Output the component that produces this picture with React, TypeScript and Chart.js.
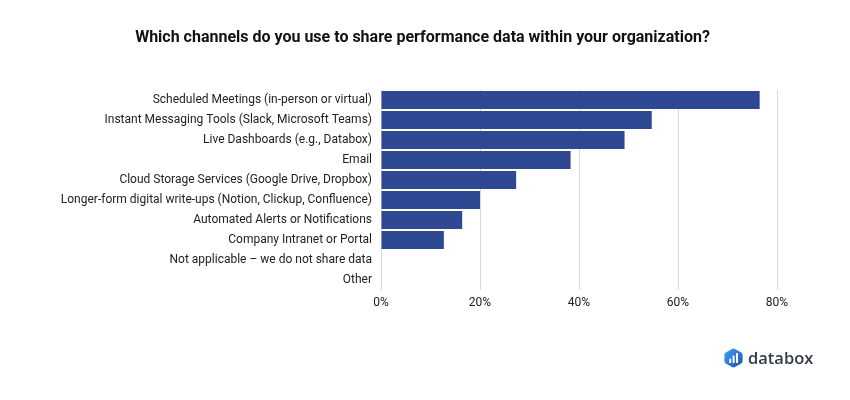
import React, { useEffect, useRef } from "react";
import { Chart, registerables } from "chart.js";

Chart.register(...registerables);

const TITLE = "Which channels do you use to share performance data within your organization?";
const categories = [
  "Scheduled Meetings (in-person or virtual)",
  "Instant Messaging Tools (Slack, Microsoft Teams)",
  "Live Dashboards (e.g., Databox)",
  "Email",
  "Cloud Storage Services (Google Drive, Dropbox)",
  "Longer-form digital write-ups (Notion, Clickup, Confluence)",
  "Automated Alerts or Notifications",
  "Company Intranet or Portal",
  "Not applicable – we do not share data",
  "Other",
];
const shares = [76.5, 54.7, 49.2, 38.3, 27.3, 20.0, 16.4, 12.7, 0, 0];
const xTicks = [0, 20, 40, 60, 80];

const BAR_COLOR = "#2e4894";
const FONT = "Roboto, 'Noto Sans', sans-serif";

function Logo() {
  return (
    <div
      style={{
        position: "absolute",
        left: 724,
        top: 348,
        display: "flex",
        alignItems: "center",
        height: 20,
      }}
    >
      <svg width="19" height="20" viewBox="0 0 19 20">
        <defs>
          <linearGradient id="dbg" x1="0" y1="0" x2="1" y2="1">
            <stop offset="0" stopColor="#3fa2f0" />
            <stop offset="1" stopColor="#1d4fb8" />
          </linearGradient>
        </defs>
        <path
          d="M8 0.9 Q9.5 0 11 0.9 L17.2 4.5 Q18.6 5.3 18.6 7 L18.6 13 Q18.6 14.7 17.2 15.5 L11 19.1 Q9.5 20 8 19.1 L1.8 15.5 Q0.4 14.7 0.4 13 L0.4 7 Q0.4 5.3 1.8 4.5 Z"
          fill="url(#dbg)"
        />
        <rect x="5.2" y="10.5" width="2" height="4.5" rx="0.6" fill="#fff" />
        <rect x="8.6" y="7.5" width="2" height="7.5" rx="0.6" fill="#fff" />
        <rect x="12" y="5" width="2" height="10" rx="0.6" fill="#fff" />
      </svg>
      <span
        style={{
          marginLeft: 5,
          fontFamily: "'Open Sans', Roboto, sans-serif",
          fontWeight: 600,
          fontSize: 16.5,
          color: "#333a45",
          lineHeight: "20px",
        }}
      >
        databox
      </span>
    </div>
  );
}

export default function App() {
  const ref = useRef<HTMLCanvasElement | null>(null);

  useEffect(() => {
    if (!ref.current) return;
    const chart = new Chart(ref.current, {
      type: "bar",
      data: {
        labels: categories,
        datasets: [
          {
            data: shares,
            backgroundColor: BAR_COLOR,
            borderWidth: 0,
            barPercentage: 0.9,
            categoryPercentage: 1,
          },
        ],
      },
      options: {
        indexAxis: "y",
        animation: false,
        responsive: false,
        devicePixelRatio: 1,
        layout: { padding: { left: 0, right: 73, top: 90, bottom: 90 } },
        plugins: {
          legend: { display: false },
          tooltip: { enabled: false },
          title: { display: false },
        },
        scales: {
          x: {
            min: 0,
            max: 80,
            afterBuildTicks: (scale: any) => {
              scale.ticks = xTicks.map((v) => ({ value: v }));
            },
            afterFit: (scale: any) => {
              scale.height = 20;
            },
            grid: { color: "#d9d9d9", lineWidth: 1, drawTicks: false },
            border: { display: false },
            ticks: {
              padding: 6,
              color: "#222222",
              font: { family: FONT, size: 12 },
              callback: (v: any) => `${v}%`,
            },
          },
          y: {
            afterFit: (scale: any) => {
              scale.width = 381;
            },
            grid: { display: false, drawTicks: false },
            border: { display: false },
            ticks: {
              padding: 9,
              color: "#222222",
              autoSkip: false,
              font: { family: FONT, size: 12 },
            },
          },
        },
      },
    });
    return () => chart.destroy();
  }, []);

  return (
    <div style={{ position: "fixed", left: 0, top: 0, width: 850, height: 400, background: "#fff" }}>
      <canvas ref={ref} width={850} height={400} style={{ width: 850, height: 400, display: "block" }} />
      <div
        style={{
          position: "absolute",
          left: 0,
          width: 845,
          top: 27,
          textAlign: "center",
          fontFamily: FONT,
          fontWeight: 700,
          fontSize: 16,
          lineHeight: "20px",
          color: "#111111",
        }}
      >
        {TITLE}
      </div>
      <Logo />
    </div>
  );
}
